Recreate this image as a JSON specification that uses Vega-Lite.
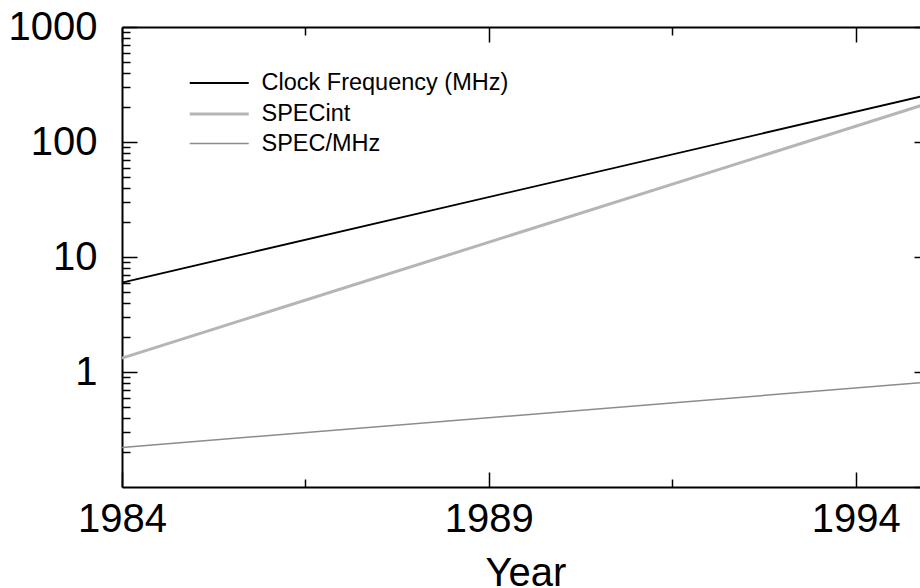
{
  "$schema": "https://vega.github.io/schema/vega-lite/v6.json",
  "width": 807,
  "height": 460,
  "autosize": {"type": "none"},
  "padding": {"left": 122, "top": 27, "right": 0, "bottom": 101},
  "background": "white",
  "config": {
    "view": {"stroke": null},
    "font": "Liberation Sans",
    "axis": {
      "grid": false,
      "domainColor": "black",
      "tickColor": "black",
      "labelColor": "black",
      "titleColor": "black",
      "domainWidth": 2,
      "tickWidth": 1.5,
      "labelFont": "Liberation Sans",
      "titleFont": "Liberation Sans"
    }
  },
  "data": {
    "values": [
      {"year": 1984, "value": 6.0, "series": "Clock Frequency (MHz)"},
      {"year": 1995, "value": 258, "series": "Clock Frequency (MHz)"},
      {"year": 1984, "value": 1.32, "series": "SPECint"},
      {"year": 1995, "value": 218, "series": "SPECint"},
      {"year": 1984, "value": 0.221, "series": "SPEC/MHz"},
      {"year": 1995, "value": 0.818, "series": "SPEC/MHz"}
    ]
  },
  "layer": [
    {
      "mark": {"type": "line"},
      "encoding": {
        "x": {
          "field": "year", "type": "quantitative",
          "scale": {"domain": [1984, 1995], "nice": false, "zero": false},
          "axis": {
            "orient": "bottom", "values": [1984, 1989, 1994], "format": "d",
            "tickSize": -15, "labelFontSize": 40, "labelPadding": 27,
            "labelFlush": false, "labelOverlap": false,
            "title": "Year", "titleFontSize": 40, "titleFontWeight": "normal", "titlePadding": 14
          }
        },
        "y": {
          "field": "value", "type": "quantitative",
          "scale": {"type": "log", "domain": [0.1, 1000], "nice": false},
          "axis": {
            "orient": "left", "values": [1, 10, 100, 1000], "format": "d",
            "tickSize": -15, "labelFontSize": 40, "labelPadding": 40,
            "labelFlush": false, "labelOverlap": false, "title": null
          }
        },
        "color": {
          "field": "series", "type": "nominal",
          "scale": {"domain": ["Clock Frequency (MHz)", "SPECint", "SPEC/MHz"], "range": ["#000000", "#b5b5b5", "#8c8c8c"]},
          "legend": {
            "title": null, "orient": "none", "legendX": 80.75, "legendY": 40,
            "symbolType": "M-2,0H2", "symbolSize": 870, "labelFontSize": 23.5,
            "labelFont": "Liberation Sans", "labelColor": "black", "labelOffset": 25.75,
            "rowPadding": 2.5, "padding": 0, "symbolOffset": 0, "labelLimit": 400
          }
        },
        "strokeWidth": {
          "field": "series", "type": "nominal",
          "scale": {"type": "ordinal", "domain": ["Clock Frequency (MHz)", "SPECint", "SPEC/MHz"], "range": [1.8, 3, 1.5]},
          "legend": {
            "title": null, "orient": "none", "legendX": 80.75, "legendY": 40,
            "symbolType": "M-2,0H2", "symbolSize": 870, "labelFontSize": 23.5,
            "labelFont": "Liberation Sans", "labelColor": "black", "labelOffset": 25.75,
            "rowPadding": 2.5, "padding": 0, "symbolOffset": 0, "labelLimit": 400
          }
        }
      }
    },
    {
      "mark": {"type": "point", "opacity": 0},
      "encoding": {
        "x": {
          "field": "year", "type": "quantitative",
          "axis": {"orient": "bottom", "values": [1986.5, 1991.5], "tickSize": -8, "labels": false, "domain": false, "title": null}
        },
        "y": {
          "field": "value", "type": "quantitative",
          "axis": {"orient": "left", "values": [0.2, 0.3, 0.4, 0.5, 0.6, 0.7, 0.8, 0.9, 2, 3, 4, 5, 6, 7, 8, 9, 20, 30, 40, 50, 60, 70, 80, 90, 200, 300, 400, 500, 600, 700, 800, 900], "tickSize": -8, "labels": false, "domain": false, "title": null}
        }
      }
    },
    {
      "mark": {"type": "point", "opacity": 0},
      "encoding": {
        "x": {
          "field": "year", "type": "quantitative",
          "axis": {"orient": "top", "values": [1984, 1989, 1994], "tickSize": -15, "labels": false, "title": null}
        },
        "y": {
          "field": "value", "type": "quantitative",
          "axis": {"orient": "right", "values": [0.1, 1, 10, 100, 1000], "tickSize": -15, "labels": false, "title": null}
        }
      }
    },
    {
      "mark": {"type": "point", "opacity": 0},
      "encoding": {
        "x": {
          "field": "year", "type": "quantitative",
          "axis": {"orient": "top", "values": [1986.5, 1991.5], "tickSize": -8, "labels": false, "domain": false, "title": null}
        },
        "y": {
          "field": "value", "type": "quantitative",
          "axis": {"orient": "right", "values": [0.2, 0.3, 0.4, 0.5, 0.6, 0.7, 0.8, 0.9, 2, 3, 4, 5, 6, 7, 8, 9, 20, 30, 40, 50, 60, 70, 80, 90, 200, 300, 400, 500, 600, 700, 800, 900], "tickSize": -8, "labels": false, "domain": false, "title": null}
        }
      }
    }
  ],
  "resolve": {"axis": {"x": "independent", "y": "independent"}}
}
